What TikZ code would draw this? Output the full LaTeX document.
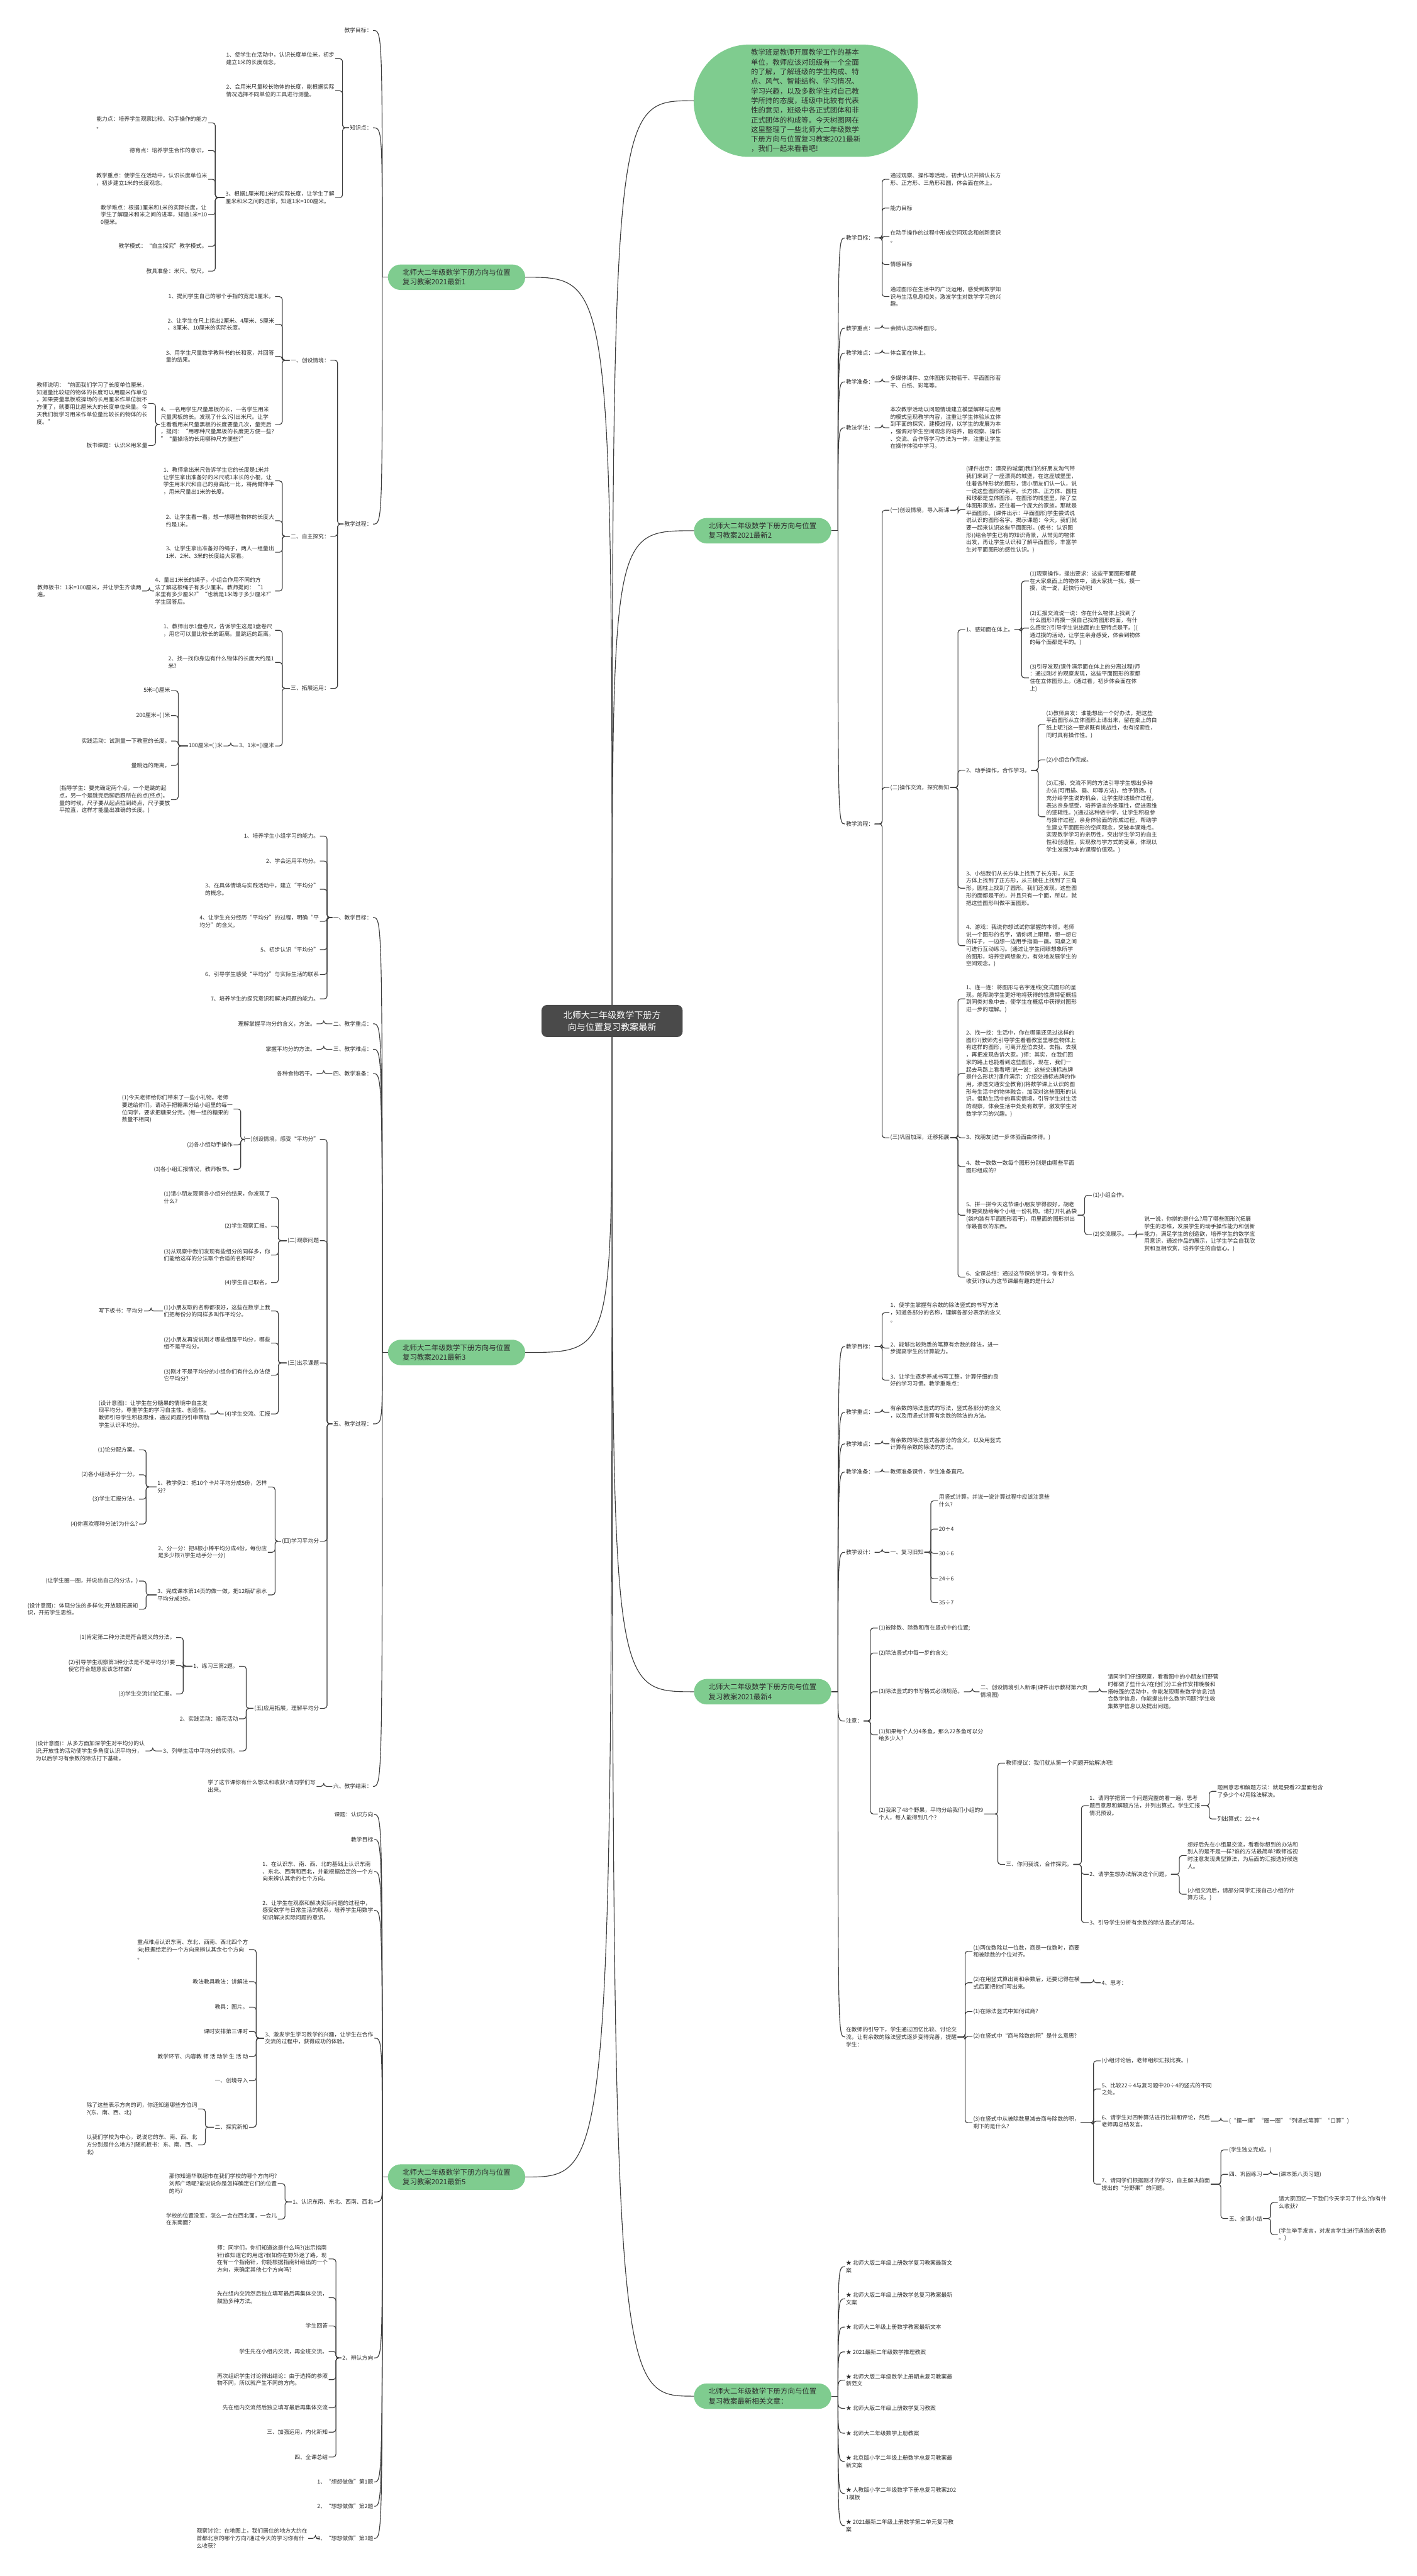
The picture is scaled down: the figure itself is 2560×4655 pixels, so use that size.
\documentclass[tikz,border=0pt]{standalone}
\usepackage{fontspec}
\setmainfont{Noto Sans CJK SC}
\definecolor{lc}{RGB}{60,60,60}
\definecolor{tc}{RGB}{45,45,45}
\definecolor{gr}{RGB}{127,204,143}
\definecolor{rtc}{RGB}{74,74,74}
\newcommand\LL[2]{\draw[conn] (#2.east) -- ++(13,0) |- (#1.west);}
\newcommand\RR[2]{\draw[conn] (#2.west) -- ++(-13,0) |- (#1.east);}
\newcommand\LO[2]{\draw[conn] (#1) .. controls (#1 |- #2.east) .. (#2.east);}
\newcommand\RO[2]{\draw[conn] (#1) .. controls (#1 |- #2.west) .. (#2.west);}
\newcommand\RT[3]{\draw[conn] (root.#1) .. controls (root.#1 |- #2.#3) .. (#2.#3);}
\begin{document}
\begin{tikzpicture}[x=1pt,y=-1pt,
 conn/.style={draw=lc,line width=1.3pt,rounded corners=5pt},
 tx/.style={font=\fontsize{10}{13.3}\selectfont,text=tc,align=left,inner sep=1.5pt},
 tl/.style={tx,anchor=east},
 tr/.style={tx,anchor=west},
 br/.style={fill=gr,rounded corners=23pt,font=\fontsize{13}{17.6}\selectfont,text=tc,align=left,minimum width=248pt,minimum height=46pt,inner xsep=25pt,inner ysep=5pt},
 rootst/.style={fill=rtc,text=white,rounded corners=10pt,font=\fontsize{16}{21}\selectfont,align=center,minimum width=255pt,minimum height=58pt},
 bubst/.style={fill=gr,rounded corners=100pt,font=\fontsize{13}{17.4}\selectfont,text=tc,align=left,minimum width=405pt,minimum height=203pt}]
\fill[white] (0,0) rectangle (2560,4655);
\useasboundingbox (0,0) rectangle (2560,4655);

% ---------- root and branches
\node[rootst] (root) at (1106,1845) {北师大二年级数学下册方\\向与位置复习教案最新};
\node[bubst] (bub) at (1456,182) {教学班是教师开展教学工作的基本\\单位，教师应该对班级有一个全面\\的了解，了解班级的学生构成、特\\点、风气、智能结构、学习情况、\\学习兴趣，以及多数学生对自己教\\学所持的态度，班级中比较有代表\\性的意见，班级中各正式团体和非\\正式团体的构成等。今天树图网在\\这里整理了一些北师大二年级数学\\下册方向与位置复习教案2021最新\\，我们一起来看看吧!};
\node[br] (b1) at (825,501) {北师大二年级数学下册方向与位置\\复习教案2021最新1};
\node[br] (b2) at (1378,959) {北师大二年级数学下册方向与位置\\复习教案2021最新2};
\node[br] (b3) at (825,2444) {北师大二年级数学下册方向与位置\\复习教案2021最新3};
\node[br] (b4) at (1378,3057) {北师大二年级数学下册方向与位置\\复习教案2021最新4};
\node[br] (b5) at (825,3934) {北师大二年级数学下册方向与位置\\复习教案2021最新5};
\node[br] (b6) at (1378,4330) {北师大二年级数学下册方向与位置\\复习教案最新相关文章：};
\coordinate (s1) at ([xshift=-10pt]b1.west);
\coordinate (s3) at ([xshift=-10pt]b3.west);
\coordinate (s5) at ([xshift=-10pt]b5.west);
\coordinate (s2) at ([xshift=12pt]b2.east);
\coordinate (s4) at ([xshift=12pt]b4.east);
\coordinate (s6) at ([xshift=12pt]b6.east);

% ---------- branch 1
\node[tl] (a1) at (674,55) {教学目标：};
\node[tl] (a2) at (674,231) {知识点：};
\node[tl] (a3) at (674,947) {教学过程：};
\node[tl] (a21) at (606,106) {1、使学生在活动中，认识长度单位米，初步\\建立1米的长度观念。};
\node[tl] (a22) at (606,164) {2、会用米尺量较长物体的长度，能根据实际\\情况选择不同单位的工具进行测量。};
\node[tl] (a23) at (606,357) {3、根据1厘米和1米的实际长度，让学生了解\\厘米和米之间的进率，知道1米=100厘米。};
\node[tl] (a231) at (376,222) {能力点：培养学生观察比较、动手操作的能力\\。};
\node[tl] (a232) at (376,272) {德育点：培养学生合作的意识。};
\node[tl] (a233) at (376,324) {教学重点：使学生在活动中，认识长度单位米\\，初步建立1米的长度观念。};
\node[tl] (a234) at (376,388) {教学难点：根据1厘米和1米的实际长度，让\\学生了解厘米和米之间的进率，知道1米=10\\0厘米。};
\node[tl] (a235) at (376,445) {教学模式：“自主探究”教学模式。};
\node[tl] (a236) at (376,490) {教具准备：米尺、软尺。};
\node[tl] (a31) at (597,651) {一、创设情境：};
\node[tl] (a32) at (597,969) {二、自主探究：};
\node[tl] (a33) at (597,1244) {三、拓展运用：};
\node[tl] (a311) at (497,536) {1、提问学生自己的哪个手指的宽是1厘米。};
\node[tl] (a312) at (497,586) {2、让学生在尺上指出2厘米、4厘米、5厘米\\、8厘米、10厘米的实际长度。};
\node[tl] (a313) at (497,644) {3、用学生尺量数学教科书的长和宽，并回答\\量的结果。};
\node[tl] (a314) at (497,767) {4、一名用学生尺量黑板的长，一名学生用米\\尺量黑板的长。发现了什么?引出米尺。让学\\生看看用米尺量黑板的长度要量几次，量完后\\，提问：“用哪种尺量黑板的长度更方便一些?\\”“量操场的长用哪种尺方便些?”};
\node[tl] (a3141) at (268,729) {教师说明：“前面我们学习了长度单位厘米，\\知道量比较短的物体的长度可以用厘米作单位\\。如果要量黑板或操场的长用厘米作单位就不\\方便了，就要用比厘米大的长度单位来量。今\\天我们就学习用米作单位量比较长的物体的长\\度。”};
\node[tl] (a3142) at (268,805) {板书课题：认识米用米量};
\node[tl] (a321) at (497,869) {1、教师拿出米尺告诉学生它的长度是1米并\\让学生拿出准备好的米尺或1米长的小棍，让\\学生用米尺和自己的身高比一比，将两臂伸平\\，用米尺量出1米的长度。};
\node[tl] (a322) at (497,941) {2、让学生看一看，想一想哪些物体的长度大\\约是1米。};
\node[tl] (a323) at (497,998) {3、让学生拿出准备好的绳子，两人一组量出\\1米、2米、3米的长度给大家看。};
\node[tl] (a324) at (497,1068) {4、量出1米长的绳子，小组合作用不同的方\\法了解这根绳子有多少厘米。教师提问：“1\\米里有多少厘米?”“也就是1米等于多少厘米?”\\学生回答后。};
\node[tl] (a3241) at (257,1068) {教师板书：1米=100厘米，并让学生齐读两\\遍。};
\node[tl] (a331) at (497,1139) {1、教师出示1盘卷尺，告诉学生这是1盘卷尺\\，用它可以量比较长的距离。量跳远的距离。};
\node[tl] (a332) at (497,1197) {2、找一找你身边有什么物体的长度大约是1\\米?};
\node[tl] (a333) at (497,1348) {3、1米=()厘米};
\node[tl] (a3331) at (404,1348) {100厘米=( )米};
\node[tl] (a33311) at (309,1248) {5米=()厘米};
\node[tl] (a33312) at (309,1293) {200厘米=( )米};
\node[tl] (a33313) at (309,1339) {实践活动：试测量一下教室的长度。};
\node[tl] (a33314) at (309,1383) {量跳远的距离。};
\node[tl] (a33315) at (309,1445) {(指导学生：要先确定两个点，一个是跳的起\\点，另一个是跳完后脚后跟所在的点(终点)。\\量的时候，尺子要从起点拉到终点，尺子要放\\平拉直，这样才能量出准确的长度。)};

% ---------- branch 3
\node[tl] (c1) at (674,1658) {一、教学目标：};
\node[tl] (c2) at (674,1850) {二、教学重点：};
\node[tl] (c3) at (674,1896) {三、教学难点：};
\node[tl] (c4) at (674,1940) {四、教学准备：};
\node[tl] (c5) at (674,2573) {五、教学过程：};
\node[tl] (c6) at (674,3228) {六、教学结束：};
\node[tl] (c11) at (578,1511) {1、培养学生小组学习的能力。};
\node[tl] (c12) at (578,1556) {2、学会运用平均分。};
\node[tl] (c13) at (578,1607) {3、在具体情境与实践活动中，建立“平均分”\\的概念。};
\node[tl] (c14) at (578,1665) {4、让学生充分经历“平均分”的过程，明确“平\\均分”的含义。};
\node[tl] (c15) at (578,1716) {5、初步认识“平均分”};
\node[tl] (c16) at (578,1761) {6、引导学生感受“平均分”与实际生活的联系};
\node[tl] (c17) at (578,1805) {7、培养学生的探究意识和解决问题的能力。};
\node[tl] (c21) at (572,1850) {理解掌握平均分的含义，方法。};
\node[tl] (c31) at (572,1896) {掌握平均分的方法。};
\node[tl] (c41) at (572,1940) {各种食物若干。};
\node[tl] (c61) at (572,3228) {学了这节课你有什么想法和收获?请同学们写\\出来。};
\node[tl] (c51) at (578,2059) {(一)创设情境，感受“平均分”};
\node[tl] (c52) at (578,2242) {(二)观察问题};
\node[tl] (c53) at (578,2463) {(三)出示课题};
\node[tl] (c54) at (578,2785) {(四)学习平均分};
\node[tl] (c55) at (578,3087) {(五)应用拓展，理解平均分};
\node[tl] (c511) at (422,2004) {(1)今天老师给你们带来了一些小礼物。老师\\要送给你们。请动手把糖果分给小组里的每一\\位同学，要求把糖果分完。(每一组的糖果的\\数量不相同)};
\node[tl] (c512) at (422,2069) {(2)各小组动手操作};
\node[tl] (c513) at (422,2113) {(3)各小组汇报情况，教师板书。};
\node[tl] (c521) at (490,2164) {(1)请小朋友观察各小组分的结果，你发现了\\什么?};
\node[tl] (c522) at (490,2216) {(2)学生观察汇报。};
\node[tl] (c523) at (490,2268) {(3)从观察中我们发现有些组分的同样多，你\\们能给这样的分法取个合适的名称吗?};
\node[tl] (c524) at (490,2318) {(4)学生自己取名。};
\node[tl] (c531) at (490,2369) {(1)小朋友取的名称都很好，这些在数学上我\\们把每份分的同样多叫作平均分。};
\node[tl] (c532) at (490,2427) {(2)小朋友再说说刚才哪些组是平均分，哪些\\组不是平均分。};
\node[tl] (c533) at (490,2485) {(3)刚才不是平均分的小组你们有什么办法使\\它平均分?};
\node[tl] (c534) at (490,2555) {(4)学生交流、汇报};
\node[tl] (c5311) at (260,2369) {写下板书：平均分};
\node[tl] (c5341) at (380,2555) {(设计意图)：让学生在分糖果的情境中自主发\\现平均分。尊重学生的学习自主性、创造性。\\教师引导学生积极思维，通过问题的引申帮助\\学生认识平均分。};
\node[tl] (c541) at (484,2687) {1、教学例2：把10个卡片平均分成5份，怎样\\分?};
\node[tl] (c542) at (484,2805) {2、分一分：把8根小棒平均分成4份，每份应\\是多少根?(学生动手分一分)};
\node[tl] (c543) at (484,2882) {3、完成课本第14页的做一做，把12瓶矿泉水\\平均分成3份。};
\node[tl] (c5411) at (251,2620) {(1)论分配方案。};
\node[tl] (c5412) at (251,2665) {(2)各小组动手分一分。};
\node[tl] (c5413) at (251,2709) {(3)学生汇报分法。};
\node[tl] (c5414) at (251,2754) {(4)你喜欢哪种分法?为什么?};
\node[tl] (c5431) at (251,2857) {(让学生圈一圈，并说出自己的分法。)};
\node[tl] (c5432) at (251,2908) {(设计意图)：体现分法的多样化;开放题拓展知\\识，开拓学生思维。};
\node[tl] (c551) at (432,3011) {1、练习三第2题。};
\node[tl] (c552) at (432,3106) {2、实践活动：插花活动};
\node[tl] (c553) at (432,3164) {3、列举生活中平均分的实例。};
\node[tl] (c5511) at (318,2959) {(1)肯定第二种分法是符合题义的分法。};
\node[tl] (c5512) at (318,3010) {(2)引导学生观察第3种分法是不是平均分?要\\使它符合题意应该怎样做?};
\node[tl] (c5513) at (318,3061) {(3)学生交流讨论汇报。};
\node[tl] (c5531) at (263,3164) {(设计意图)：从多方面加深学生对平均分的认\\识;开放性的活动使学生多角度认识平均分，\\为以后学习有余数的除法打下基础。};

% ---------- branch 5
\node[tl] (e1) at (676,3279) {课题：认识方向};
\node[tl] (e2) at (676,3324) {教学目标};
\node[tl] (e3) at (676,3382) {1、在认识东、南、西、北的基础上认识东南\\、东北、西南和西北，并能根据给定的一个方\\向来辨认其余的七个方向。};
\node[tl] (e4) at (676,3452) {2、让学生在观察和解决实际问题的过程中，\\感受数学与日常生活的联系，培养学生用数学\\知识解决实际问题的意识。};
\node[tl] (e5) at (676,3683) {3、激发学生学习数学的兴趣，让学生在合作\\交流的过程中，获得成功的体验。};
\node[tl] (e6) at (676,3979) {1、认识东南、东北、西南、西北};
\node[tl] (e7) at (676,4261) {2、辨认方向};
\node[tl] (e8) at (676,4485) {1、“想想做做”第1题};
\node[tl] (e9) at (676,4529) {2、“想想做做”第2题};
\node[tl] (e10) at (676,4587) {3、“想想做做”第3题};
\node[tl] (e51) at (450,3523) {重点难点认识东南、东北、西南、西北四个方\\向;根据给定的一个方向来辨认其余七个方向\\。};
\node[tl] (e52) at (450,3581) {教法教具教法：讲解法};
\node[tl] (e53) at (450,3627) {教具：图片。};
\node[tl] (e54) at (450,3671) {课时安排第三课时};
\node[tl] (e55) at (450,3716) {教学环节、内容教 师 活 动学 生 活 动};
\node[tl] (e56) at (450,3760) {一、创境导入};
\node[tl] (e57) at (450,3844) {二、探究新知};
\node[tl] (e571) at (358,3811) {除了这些表示方向的词，你还知道哪些方位词\\?(东、南、西、北)};
\node[tl] (e572) at (358,3876) {以我们学校为中心，说说它的东、南、西、北\\方分别是什么地方?(随机板书：东、南、西、\\北)};
\node[tl] (e61) at (502,3946) {那你知道华联超市在我们学校的哪个方向吗?\\刘邦广场呢?能说说你是怎样确定它们的位置\\的吗?};
\node[tl] (e62) at (502,4010) {学校的位置没变，怎么一会在西北面，一会儿\\在东南面?};
\node[tl] (e71) at (594,4082) {师：同学们，你们知道这是什么吗?(出示指南\\针)谁知道它的用途?假如你在野外迷了路，现\\在有一个指南针，你能根据指南针给出的一个\\方向，来确定其他七个方向吗?};
\node[tl] (e72) at (594,4152) {先在组内交流然后独立填写最后再集体交流，\\鼓励多种方法。};
\node[tl] (e73) at (594,4203) {学生回答};
\node[tl] (e74) at (594,4249) {学生先在小组内交流，再全班交流。};
\node[tl] (e75) at (594,4300) {再次组织学生讨论得出结论：由于选择的参照\\物不同，所以就产生不同的方向。};
\node[tl] (e76) at (594,4351) {先在组内交流然后独立填写最后再集体交流};
\node[tl] (e77) at (594,4395) {三、加强运用，内化新知};
\node[tl] (e78) at (594,4440) {四、全课总结};
\node[tl] (e101) at (557,4587) {观察讨论：在地图上，我们居住的地方大约在\\首都北京的哪个方向?通过今天的学习你有什\\么收获?};

% ---------- branch 2
\node[tr] (d1) at (1527,430) {教学目标：};
\node[tr] (d2) at (1527,593) {教学重点：};
\node[tr] (d3) at (1527,638) {教学难点：};
\node[tr] (d4) at (1527,690) {教学准备：};
\node[tr] (d5) at (1527,773) {教法学法：};
\node[tr] (d6) at (1527,1489) {教学流程：};
\node[tr] (d11) at (1607,324) {通过观察、操作等活动，初步认识并辨认长方\\形、正方形、三角形和圆，体会面在体上。};
\node[tr] (d12) at (1607,376) {能力目标};
\node[tr] (d13) at (1607,427) {在动手操作的过程中形成空间观念和创新意识\\。};
\node[tr] (d14) at (1607,478) {情感目标};
\node[tr] (d15) at (1607,536) {通过图形在生活中的广泛运用，感受到数学知\\识与生活息息相关，激发学生对数学学习的兴\\趣。};
\node[tr] (d21) at (1607,593) {会辨认这四种图形。};
\node[tr] (d31) at (1607,638) {体会面在体上。};
\node[tr] (d41) at (1607,690) {多媒体课件、立体图形实物若干、平面图形若\\干、白纸、彩笔等。};
\node[tr] (d51) at (1607,773) {本次教学活动以问题情境建立模型解释与应用\\的模式呈现教学内容，注重让学生体验从立体\\到平面的探究、建模过程，以学生的发展为本\\，强调对学生空间观念的培养，融观察、操作\\、交流、合作等学习方法为一体，注重让学生\\在操作体验中学习。};
\node[tr] (d61) at (1607,922) {(一)创设情境，导入新课};
\node[tr] (d62) at (1607,1423) {(二)操作交流，探究新知};
\node[tr] (d63) at (1607,2056) {(三)巩固加深，迁移拓展};
\node[tr] (d611) at (1744,921) {(课件出示：漂亮的城堡)我们的好朋友淘气带\\我们来到了一座漂亮的城堡，在这座城堡里，\\住着各种形状的图形，请小朋友们认一认，说\\一说这些图形的名字。长方体、正方体、圆柱\\和球都是立体图形。在图形的城堡里，除了立\\体图形家族，还住着一个庞大的家族，那就是\\平面图形。(课件出示：平面图形)学生尝试说\\说认识的图形名字。揭示课题：今天，我们就\\要一起来认识这些平面图形。(板书：认识图\\形)(结合学生已有的知识背景，从常见的物体\\出发，再让学生认识和了解平面图形，丰富学\\生对平面图形的感性认识。)};
\node[tr] (d621) at (1744,1138) {1、感知面在体上。};
\node[tr] (d622) at (1744,1392) {2、动手操作，合作学习。};
\node[tr] (d623) at (1744,1605) {3、小结我们从长方体上找到了长方形，从正\\方体上找到了正方形，从三棱柱上找到了三角\\形，圆柱上找到了圆形。我们还发现，这些图\\形的面都是平的，并且只有一个面，所以，就\\把这些图形叫做平面图形。};
\node[tr] (d624) at (1744,1709) {4、游戏：我说你想试试你掌握的本领。老师\\说一个图形的名字，请你闭上眼睛，想一想它\\的样子，一边想一边用手指画一画。同桌之间\\可进行互动练习。(通过让学生闭眼想象所学\\的图形，培养空间想象力，有效地发展学生的\\空间观念。)};
\node[tr] (d6211) at (1859,1050) {(1)观察操作，提出要求：这些平面图形都藏\\在大家桌面上的物体中，请大家找一找，摸一\\摸，说一说，赶快行动吧!};
\node[tr] (d6212) at (1859,1135) {(2)汇报交流说一说：你在什么物体上找到了\\什么图形?再摸一摸自己找的图形的面，有什\\么感觉?(引导学生说出面的主要特点是平。)(\\通过摸的活动，让学生亲身感受，体会到物体\\的每个面都是平的。)};
\node[tr] (d6213) at (1859,1225) {(3)引导发现(课件演示面在体上的分离过程)师\\：通过刚才的观察发现，这些平面图形的家都\\住在立体图形上。(通过看，初步体会面在体\\上)};
\node[tr] (d6221) at (1889,1309) {(1)教师启发：谁能想出一个好办法，把这些\\平面图形从立体图形上请出来，留在桌上的白\\纸上呢?(这一要求既有挑战性，也有探索性，\\同时具有操作性。)};
\node[tr] (d6222) at (1889,1373) {(2)小组合作完成。};
\node[tr] (d6223) at (1889,1476) {(3)汇报、交流不同的方法引导学生想出多种\\办法(可用描、画、印等方法)，给予赞扬。(\\充分给学生说的机会，让学生陈述操作过程，\\表达亲身感受，培养语言的条理性，促进思维\\的逻辑性。)(通过这种做中学，让学生积极参\\与操作过程，亲身体验面的形成过程，帮助学\\生建立平面图形的空间观念，突破本课难点。\\实现数学学习的亲历性，突出学生学习的自主\\性和创造性，实现教与学方式的变革，体现以\\学生发展为本的课程价值观。)};
\node[tr] (d631) at (1744,1805) {1、连一连：将图形与名字连线(变式图形的呈\\现，能帮助学生更好地将获得的性质特征概括\\到同类对象中去，使学生在概括中获得对图形\\进一步的理解。)};
\node[tr] (d632) at (1744,1940) {2、找一找：生活中，你在哪里还见过这样的\\图形?(教师先引导学生看看教室里哪些物体上\\有这样的图形，可离开座位去找、去指、去摸\\，再把发现告诉大家。)师：其实，在我们回\\家的路上也能看到这些图形，现在，我们一\\起去马路上看看吧!说一说：这些交通标志牌\\是什么形状?(课件演示：介绍交通标志牌的作\\用，渗透交通安全教育)(将数学课上认识的图\\形与生活中的物体融合，加深对这些图形的认\\识。借助生活中的真实情境，引导学生对生活\\的观察，体会生活中处处有数学，激发学生对\\数学学习的兴趣。)};
\node[tr] (d633) at (1744,2056) {3、找朋友(进一步体验面由体得。)};
\node[tr] (d634) at (1744,2108) {4、数一数数一数每个图形分别是由哪些平面\\图形组成的?};
\node[tr] (d635) at (1744,2196) {5、拼一拼今天这节课小朋友学得很好，胡老\\师要奖励给每个小组一份礼物。请打开礼品袋\\(袋内装有平面图形若干)，用里面的图形拼出\\你最喜欢的东西。};
\node[tr] (d636) at (1744,2308) {6、全课总结：通过这节课的学习，你有什么\\收获?你认为这节课最有趣的是什么?};
\node[tr] (d6351) at (1973,2160) {(1)小组合作。};
\node[tr] (d6352) at (1973,2231) {(2)交流展示。};
\node[tr] (d63521) at (2066,2230) {说一说，你拼的是什么?用了哪些图形?(拓展\\学生的思维，发展学生的动手操作能力和创新\\能力，满足学生的创造欲，培养学生的数学应\\用意识，通过作品的展示，让学生学会自我欣\\赏和互相欣赏，培养学生的自信心。)};

% ---------- branch 4
\node[tr] (f1) at (1527,2433) {教学目标：};
\node[tr] (f2) at (1527,2552) {教学重点：};
\node[tr] (f3) at (1527,2609) {教学难点：};
\node[tr] (f4) at (1527,2660) {教学准备：};
\node[tr] (f5) at (1527,2805) {教学设计：};
\node[tr] (f6) at (1527,3110) {注意：};
\node[tr] (f7) at (1527,3681) {在教师的引导下，学生通过回忆比较、讨论交\\流，让有余数的除法竖式逐步变得完善，提醒\\学生：};
\node[tr] (f11) at (1607,2372) {1、使学生掌握有余数的除法竖式的书写方法\\，知道各部分的名称，理解各部分表示的含义\\。};
\node[tr] (f12) at (1607,2436) {2、能够比较熟悉的笔算有余数的除法，进一\\步提高学生的计算能力。};
\node[tr] (f13) at (1607,2494) {3、让学生逐步养成书写工整，计算仔细的良\\好的学习习惯。教学重难点：};
\node[tr] (f21) at (1607,2552) {有余数的除法竖式的写法，竖式各部分的含义\\，以及用竖式计算有余数的除法的方法。};
\node[tr] (f31) at (1607,2609) {有余数的除法竖式各部分的含义，以及用竖式\\计算有余数的除法的方法。};
\node[tr] (f41) at (1607,2660) {教师准备课件，学生准备直尺。};
\node[tr] (f51) at (1607,2805) {一、复习旧知};
\node[tr] (f511) at (1695,2712) {用竖式计算，并说一说计算过程中应该注意些\\什么?};
\node[tr] (f512) at (1695,2763) {20÷4};
\node[tr] (f513) at (1695,2807) {30÷6};
\node[tr] (f514) at (1695,2853) {24÷6};
\node[tr] (f515) at (1695,2896) {35÷7};
\node[tr] (f61) at (1586,2942) {(1)被除数、除数和商在竖式中的位置;};
\node[tr] (f62) at (1586,2987) {(2)除法竖式中每一步的含义;};
\node[tr] (f63) at (1586,3057) {(3)除法竖式的书写格式必须规范。};
\node[tr] (f64) at (1586,3135) {(1)如果每个人分4条鱼，那么22条鱼可以分\\给多少人?};
\node[tr] (f65) at (1586,3278) {(2)我采了48个野果，平均分给我们小组的9\\个人，每人能得到几个?};
\node[tr] (f631) at (1770,3057) {二、创设情境引入新课(课件出示教材第六页\\情境图)};
\node[tr] (f6311) at (2000,3057) {请同学们仔细观察，看看图中的小朋友们野营\\时都做了些什么?在他们分工合作安排晚餐和\\搭帐篷的活动中，你能发现哪些数学信息?结\\合数学信息，你能提出什么数学问题?学生收\\集数学信息以及提出问题。};
\node[tr] (f651) at (1816,3186) {教师提议：我们就从第一个问题开始解决吧!};
\node[tr] (f652) at (1816,3369) {三、你问我说，合作探究。};
\node[tr] (f6521) at (1967,3263) {1、请同学把第一个问题完整的看一遍，思考\\题目意思和解题方法，并列出算式。学生汇报\\情况预设。};
\node[tr] (f6522) at (1967,3387) {2、请学生想办法解决这个问题。};
\node[tr] (f6523) at (1967,3474) {3、引导学生分析有余数的除法竖式的写法。};
\node[tr] (f65211) at (2198,3237) {题目意思和解题方法：就是要看22里面包含\\了多少个4?用除法解决。};
\node[tr] (f65212) at (2198,3287) {列出算式：22÷4};
\node[tr] (f65221) at (2144,3353) {想好后先在小组里交流，看看你想到的办法和\\别人的是不是一样?谁的方法最简单?教师巡视\\时注意发现典型算法，为后面的汇报选好候选\\人。};
\node[tr] (f65222) at (2144,3423) {(小组交流后，请部分同学汇报自己小组的计\\算方法。)};
\node[tr] (f71) at (1757,3526) {(1)两位数除以一位数，商是一位数时，商要\\和被除数的个位对齐。};
\node[tr] (f72) at (1757,3583) {(2)在用竖式算出商和余数后，还要记得在横\\式后面把他们写出来。};
\node[tr] (f73) at (1757,3635) {(1)在除法竖式中如何试商?};
\node[tr] (f74) at (1757,3680) {(2)在竖式中“商与除数的积”是什么意思?};
\node[tr] (f75) at (1757,3836) {(3)在竖式中从被除数里减去商与除数的积，\\剩下的是什么?};
\node[tr] (f721) at (1989,3583) {4、思考：};
\node[tr] (f751) at (1989,3724) {(小组讨论后，老师组织汇报比赛。)};
\node[tr] (f752) at (1989,3775) {5、比较22÷4与复习题中20÷4的竖式的不同\\之处。};
\node[tr] (f753) at (1989,3833) {6、请学生对四种算法进行比较和评论，然后\\老师再总结发言。};
\node[tr] (f754) at (1989,3947) {7、请同学们根据刚才的学习，自主解决前面\\提出的“分野果”的问题。};
\node[tr] (f7531) at (2219,3833) {(“摆一摆”“圈一圈”“列竖式笔算”“口算”)};
\node[tr] (f7541) at (2219,3885) {(学生独立完成。)};
\node[tr] (f7542) at (2219,3929) {四、巩固练习};
\node[tr] (f7543) at (2219,4009) {五、全课小结};
\node[tr] (f75421) at (2309,3929) {(课本第八页习题)};
\node[tr] (f75431) at (2309,3980) {请大家回忆一下我们今天学习了什么?你有什\\么收获?};
\node[tr] (f75432) at (2309,4038) {(学生举手发言，对发言学生进行适当的表扬\\。)};

% ---------- related
\node[tr] (g1) at (1527,4096) {★ 北师大版二年级上册数学复习教案最新文\\案};
\node[tr] (g2) at (1527,4154) {★ 北师大版二年级上册数学总复习教案最新\\文案};
\node[tr] (g3) at (1527,4205) {★ 北师大二年级上册数学教案最新文本};
\node[tr] (g4) at (1527,4250) {★ 2021最新二年级数学推理教案};
\node[tr] (g5) at (1527,4301) {★ 北师大版二年级数学上册期末复习教案最\\新范文};
\node[tr] (g6) at (1527,4352) {★ 北师大版二年级上册数学复习教案};
\node[tr] (g7) at (1527,4397) {★ 北师大二年级数学上册教案};
\node[tr] (g8) at (1527,4448) {★ 北京版小学二年级上册数学总复习教案最\\新文案};
\node[tr] (g9) at (1527,4506) {★ 人教版小学二年级数学下册总复习教案202\\1模板};
\node[tr] (g10) at (1527,4564) {★ 2021最新二年级上册数学第二单元复习教\\案};

% ---------- connectors: root
\RT{north}{b1}{east}
\RT{north}{bub}{west}
\RT{north}{b2}{west}
\RT{south}{b3}{east}
\RT{south}{b5}{east}
\RT{south}{b4}{west}
\RT{south}{b6}{west}
% branch stubs
\draw[conn] (b1.west) -- (s1);
\draw[conn] (b3.west) -- (s3);
\draw[conn] (b5.west) -- (s5);
\draw[conn] (b2.east) -- (s2);
\draw[conn] (b4.east) -- (s4);
\draw[conn] (b6.east) -- (s6);
\foreach \c in {a1,a2,a3} {\LO{s1}{\c}}
\foreach \c in {c1,c2,c3,c4,c5,c6} {\LO{s3}{\c}}
\foreach \c in {e1,e2,e3,e4,e5,e6,e7,e8,e9,e10} {\LO{s5}{\c}}
\foreach \c in {d1,d2,d3,d4,d5,d6} {\RO{s2}{\c}}
\foreach \c in {f1,f2,f3,f4,f5,f6,f7} {\RO{s4}{\c}}
\foreach \c in {g1,g2,g3,g4,g5,g6,g7,g8,g9,g10} {\RO{s6}{\c}}
% left brackets
\foreach \c in {a21,a22,a23} {\LL{a2}{\c}}
\foreach \c in {a231,a232,a233,a234,a235,a236} {\LL{a23}{\c}}
\foreach \c in {a31,a32,a33} {\LL{a3}{\c}}
\foreach \c in {a311,a312,a313,a314} {\LL{a31}{\c}}
\foreach \c in {a3141,a3142} {\LL{a314}{\c}}
\foreach \c in {a321,a322,a323,a324} {\LL{a32}{\c}}
\LL{a324}{a3241}
\foreach \c in {a331,a332,a333} {\LL{a33}{\c}}
\LL{a333}{a3331}
\foreach \c in {a33311,a33312,a33313,a33314,a33315} {\LL{a3331}{\c}}
\foreach \c in {c11,c12,c13,c14,c15,c16,c17} {\LL{c1}{\c}}
\LL{c2}{c21}
\LL{c3}{c31}
\LL{c4}{c41}
\LL{c6}{c61}
\foreach \c in {c51,c52,c53,c54,c55} {\LL{c5}{\c}}
\foreach \c in {c511,c512,c513} {\LL{c51}{\c}}
\foreach \c in {c521,c522,c523,c524} {\LL{c52}{\c}}
\foreach \c in {c531,c532,c533,c534} {\LL{c53}{\c}}
\LL{c531}{c5311}
\LL{c534}{c5341}
\foreach \c in {c541,c542,c543} {\LL{c54}{\c}}
\foreach \c in {c5411,c5412,c5413,c5414} {\LL{c541}{\c}}
\foreach \c in {c5431,c5432} {\LL{c543}{\c}}
\foreach \c in {c551,c552,c553} {\LL{c55}{\c}}
\foreach \c in {c5511,c5512,c5513} {\LL{c551}{\c}}
\LL{c553}{c5531}
\foreach \c in {e51,e52,e53,e54,e55,e56,e57} {\LL{e5}{\c}}
\foreach \c in {e571,e572} {\LL{e57}{\c}}
\foreach \c in {e61,e62} {\LL{e6}{\c}}
\foreach \c in {e71,e72,e73,e74,e75,e76,e77,e78} {\LL{e7}{\c}}
\LL{e10}{e101}
% right brackets
\foreach \c in {d11,d12,d13,d14,d15} {\RR{d1}{\c}}
\RR{d2}{d21}
\RR{d3}{d31}
\RR{d4}{d41}
\RR{d5}{d51}
\foreach \c in {d61,d62,d63} {\RR{d6}{\c}}
\RR{d61}{d611}
\foreach \c in {d621,d622,d623,d624} {\RR{d62}{\c}}
\foreach \c in {d6211,d6212,d6213} {\RR{d621}{\c}}
\foreach \c in {d6221,d6222,d6223} {\RR{d622}{\c}}
\foreach \c in {d631,d632,d633,d634,d635,d636} {\RR{d63}{\c}}
\foreach \c in {d6351,d6352} {\RR{d635}{\c}}
\RR{d6352}{d63521}
\foreach \c in {f11,f12,f13} {\RR{f1}{\c}}
\RR{f2}{f21}
\RR{f3}{f31}
\RR{f4}{f41}
\RR{f5}{f51}
\foreach \c in {f511,f512,f513,f514,f515} {\RR{f51}{\c}}
\foreach \c in {f61,f62,f63,f64,f65} {\RR{f6}{\c}}
\RR{f63}{f631}
\RR{f631}{f6311}
\foreach \c in {f651,f652} {\RR{f65}{\c}}
\foreach \c in {f6521,f6522,f6523} {\RR{f652}{\c}}
\foreach \c in {f65211,f65212} {\RR{f6521}{\c}}
\foreach \c in {f65221,f65222} {\RR{f6522}{\c}}
\foreach \c in {f71,f72,f73,f74,f75} {\RR{f7}{\c}}
\RR{f72}{f721}
\foreach \c in {f751,f752,f753,f754} {\RR{f75}{\c}}
\RR{f753}{f7531}
\foreach \c in {f7541,f7542,f7543} {\RR{f754}{\c}}
\RR{f7542}{f75421}
\foreach \c in {f75431,f75432} {\RR{f7543}{\c}}
\end{tikzpicture}
\end{document}
